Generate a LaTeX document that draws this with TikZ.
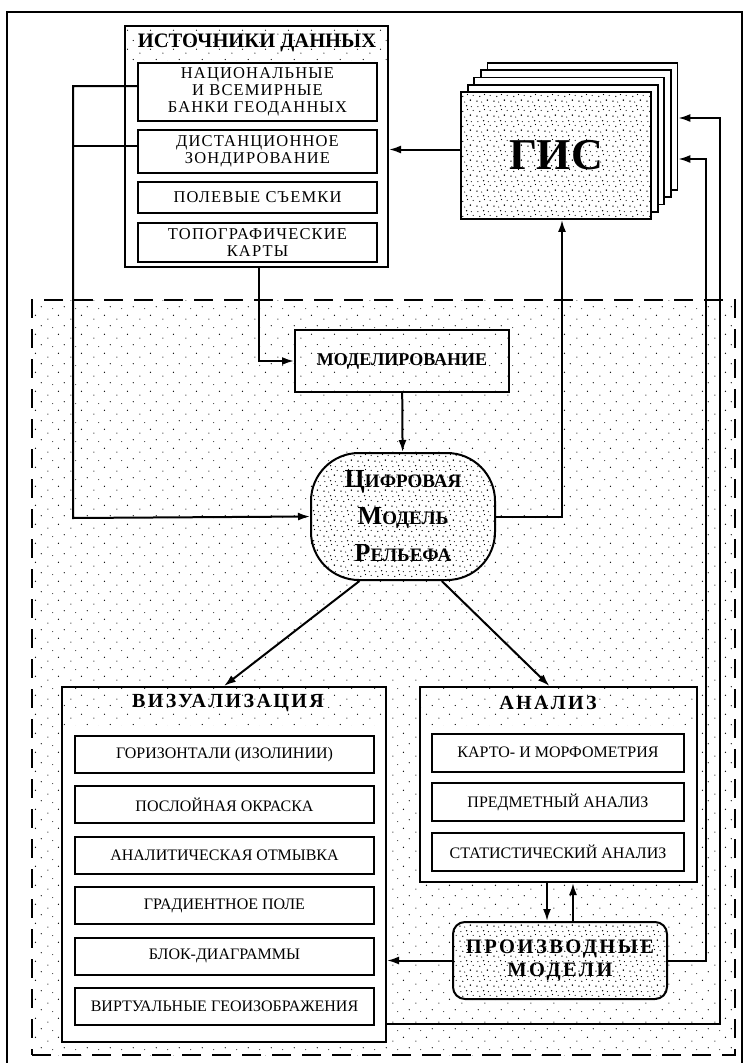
\documentclass[tikz,border=0pt]{standalone}
\usepackage{fontspec}
\setmainfont{Liberation Serif}
\newfontfamily\widefont[LetterSpace=7]{Liberation Serif}
\newfontfamily\spacefont[LetterSpace=12]{Liberation Serif}
\usepackage{tikz}
\usetikzlibrary{positioning, patterns, calc, arrows.meta}

%% stipple fills of the scanned picture
\pgfdeclarepatternformonly{sparsedots}{\pgfpointorigin}{\pgfpoint{23pt}{19pt}}{\pgfpoint{23pt}{19pt}}{%
	\pgfpathcircle{\pgfpoint{2pt}{3pt}}{0.6pt}
	\pgfpathcircle{\pgfpoint{13pt}{7pt}}{0.7pt}
	\pgfpathcircle{\pgfpoint{7pt}{14pt}}{0.55pt}
	\pgfpathcircle{\pgfpoint{19pt}{16pt}}{0.6pt}
	\pgfusepath{fill}}
\pgfdeclarepatternformonly{densedots}{\pgfpointorigin}{\pgfpoint{17pt}{15pt}}{\pgfpoint{17pt}{15pt}}{%
	\pgfpathcircle{\pgfpoint{1pt}{2pt}}{0.8pt}
	\pgfpathcircle{\pgfpoint{6pt}{1pt}}{0.6pt}
	\pgfpathcircle{\pgfpoint{12pt}{3pt}}{0.9pt}
	\pgfpathcircle{\pgfpoint{15pt}{8pt}}{0.6pt}
	\pgfpathcircle{\pgfpoint{4pt}{7pt}}{0.7pt}
	\pgfpathcircle{\pgfpoint{9pt}{9pt}}{0.6pt}
	\pgfpathcircle{\pgfpoint{2pt}{12pt}}{0.6pt}
	\pgfpathcircle{\pgfpoint{8pt}{13pt}}{0.8pt}
	\pgfpathcircle{\pgfpoint{13pt}{12pt}}{0.6pt}
	\pgfusepath{fill}}

\newcommand{\fakesc}[2]{{\fontsize{26}{26}\selectfont #1}{\fontsize{19}{19}\selectfont\MakeUppercase{#2}}}

\begin{document}
\begin{tikzpicture}[x=1pt, y=-1pt]
	\tikzstyle{zone}=[draw=black, line width=2.8pt, dash pattern=on 19pt off 11pt, pattern=sparsedots, inner sep=0pt]
	\tikzstyle{panel}=[draw=black, line width=2pt, fill=white, inner sep=0pt]
	\tikzstyle{band}=[draw=none, pattern=sparsedots, inner sep=0pt]
	\tikzstyle{srcitem}=[draw=black, line width=2pt, fill=white, minimum width=239pt, align=center, inner sep=0pt, font=\widefont\fontsize{16.5}{17}\selectfont]
	\tikzstyle{item}=[draw=black, line width=2pt, fill=white, minimum height=37pt, align=center, inner sep=0pt, font=\fontsize{16}{18}\selectfont]
	\tikzstyle{title}=[font=\bfseries\fontsize{20.5}{22}\selectfont, inner sep=0pt]
	\tikzstyle{gislayer}=[draw=black, line width=1.8pt, fill=white, minimum width=190pt, minimum height=127pt]
	\tikzstyle{conn}=[line width=2pt, -{Latex[length=12pt,width=8pt]}]
	\tikzstyle{line}=[line width=2pt]

	\useasboundingbox (0,0) rectangle (745,1063);

	%% dashed zone and outer frame
	\node[zone, minimum width=703pt, minimum height=755pt] (zone) at (383.5,677.5) {};
	\draw[line width=2.4pt] (7,1063) |- (742,12) -- (742,1063);

	%% data sources
	\node[panel, minimum width=263pt, minimum height=241pt] (src) at (256.5,146.5) {};
	\node[band, minimum width=260pt, minimum height=34pt, anchor=north] (srcb) at ([yshift=-1pt]src.north) {};
	\node[title] (srct) at (257,43) {ИСТОЧНИКИ ДАННЫХ};
	\foreach \y/\h/\t [count=\i] in {92/58/{НАЦИОНАЛЬНЫЕ\\И ВСЕМИРНЫЕ\\БАНКИ ГЕОДАННЫХ}, 151.5/43/{ДИСТАНЦИОННОЕ\\ЗОНДИРОВАНИЕ}, 197.5/31/{ПОЛЕВЫЕ СЪЕМКИ}, 242.5/39/{ТОПОГРАФИЧЕСКИЕ\\КАРТЫ}}
		\node[srcitem, minimum height=\h pt] (s\i) at (257.5,\y) {\t};

	%% GIS stack
	\foreach \i in {4,3,2,1}
		\node[gislayer] (g\i) at ({556+6.6*\i},{155.5-7.3*\i}) {};
	\node[gislayer, pattern=densedots, preaction={fill=white}, font=\bfseries\fontsize{44}{44}\selectfont] (gis) at (556,155.5) {ГИС};

	%% modelling and DEM
	\node[panel, pattern=sparsedots, preaction={fill=white}, minimum width=214pt, minimum height=62pt, font=\bfseries\fontsize{18}{20}\selectfont] (mod) at (402,361) {МОДЕЛИРОВАНИЕ};
	\node[draw=black, line width=2pt, rounded corners=48pt, pattern=densedots, preaction={fill=white}, minimum width=184pt, minimum height=127pt, align=center, font=\bfseries\fontsize{19}{37}\selectfont] (dem) at (403,516.5) {\fakesc{Ц}{ифровая}\\\fakesc{М}{одель}\\\fakesc{Р}{ельефа}};

	%% visualisation
	\node[panel, minimum width=324pt, minimum height=355pt] (viz) at (224,864.5) {};
	\node[band, minimum width=321pt, minimum height=38pt, anchor=north] (vizb) at ([yshift=-1pt]viz.north) {};
	\node[title, font=\spacefont\bfseries\fontsize{20}{22}\selectfont] (vizt) at (228,703) {ВИЗУАЛИЗАЦИЯ};
	\foreach \t [count=\i] in {ГОРИЗОНТАЛИ (ИЗОЛИНИИ), ПОСЛОЙНАЯ ОКРАСКА, АНАЛИТИЧЕСКАЯ ОТМЫВКА, ГРАДИЕНТНОЕ ПОЛЕ, БЛОК-ДИАГРАММЫ, ВИРТУАЛЬНЫЕ ГЕОИЗОБРАЖЕНИЯ}
		\node[item, minimum width=299pt] (v\i) at (224.5,{754.5+50.4*(\i-1)}) {\t};

	%% analysis
	\node[panel, minimum width=277pt, minimum height=195pt] (ana) at (558.5,784.5) {};
	\node[band, minimum width=274pt, minimum height=38pt, anchor=north] (anab) at ([yshift=-1pt]ana.north) {};
	\node[title, font=\spacefont\bfseries\fontsize{20}{22}\selectfont] (anat) at (548,703) {АНАЛИЗ};
	\foreach \t [count=\i] in {КАРТО- И МОРФОМЕТРИЯ, ПРЕДМЕТНЫЙ АНАЛИЗ, СТАТИСТИЧЕСКИЙ АНАЛИЗ}
		\node[item, minimum width=252pt, minimum height=38pt] (a\i) at (558,{752.5+49.8*(\i-1)}) {\t};

	%% derived models
	\node[draw=black, line width=2pt, rounded corners=12pt, pattern=densedots, preaction={fill=white}, minimum width=214pt, minimum height=77pt, align=center, font=\spacefont\bfseries\fontsize{20.5}{23}\selectfont] (pm) at (560,960.5) {ПРОИЗВОДНЫЕ\\МОДЕЛИ};

	%% connectors
	\coordinate (lft) at (73,518);
	\coordinate (r1) at (720,118);
	\coordinate (r2) at (706,159);
	\draw[conn] ([yshift=6pt]s1.west) -| (lft) -- (dem.west);
	\draw[line] ([yshift=6pt]s2.west) -- ([yshift=6pt]s2.west -| lft);
	\draw[conn] ([xshift=2.5pt]src.south) |- (mod.west);
	\draw[conn] ([yshift=6pt]gis.west) -- ([yshift=6pt]gis.west -| src.east);
	\draw[conn] (mod) -- (dem);
	\draw[conn] (dem.east) -| ([xshift=6pt]gis.south);
	\draw[conn] (dem.236) -- (viz.north);
	\draw[conn] (dem.301) -- ([xshift=-9pt]ana.north);
	\draw[conn] ([xshift=-13pt]pm.north |- ana.south) -- ([xshift=-13pt]pm.north);
	\draw[conn] ([xshift=13pt]pm.north) -- ([xshift=13pt]pm.north |- ana.south);
	\draw[conn] (pm.west) -- (pm.west -| viz.east);
	\draw[conn] (pm.east) -| (r2) -- (r2 -| g4.east);
	\draw[conn] ([yshift=19pt]viz.south east) -| (r1) -- (r1 -| g4.east);
\end{tikzpicture}
\end{document}
